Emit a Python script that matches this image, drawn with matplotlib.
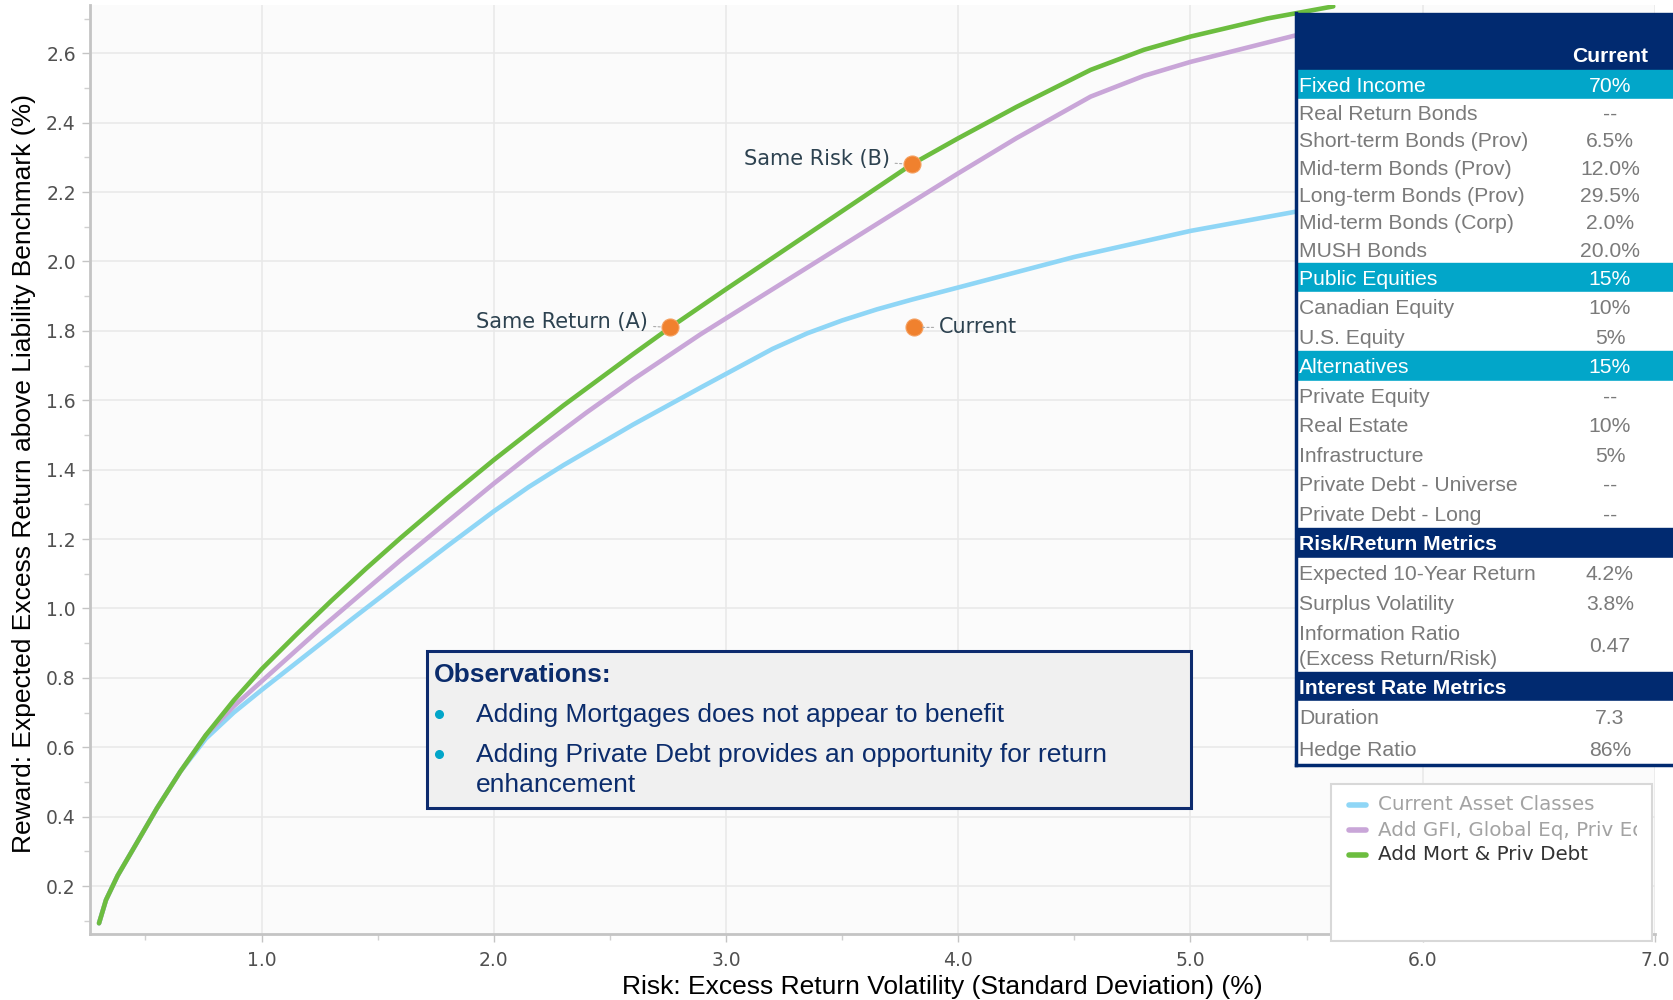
import matplotlib
matplotlib.use("Agg")
import matplotlib.pyplot as plt
from matplotlib.patches import Rectangle
from matplotlib.transforms import Bbox, TransformedBbox
from matplotlib.ticker import MultipleLocator, FormatStrFormatter

# --- frontier data: risk (%) x expected excess return (%) ---
risk_current_classes = [0.30, 0.33, 0.38, 0.45, 0.55, 0.65, 0.76, 0.88, 1.00, 1.20, 1.40, 1.60, 1.80,
                        2.00, 2.15, 2.30, 2.60, 2.90, 3.20, 3.35, 3.50, 3.65, 3.80, 4.00, 4.50, 5.00, 5.45]
ret_current_classes = [0.093, 0.16, 0.23, 0.31, 0.425, 0.53, 0.625, 0.70, 0.765, 0.87, 0.975, 1.078, 1.18,
                       1.28, 1.35, 1.413, 1.53, 1.64, 1.748, 1.793, 1.83, 1.862, 1.89, 1.925, 2.013,
                       2.088, 2.143]

risk_add_gfi = [0.30, 0.33, 0.38, 0.45, 0.55, 0.65, 0.76, 0.88, 1.00, 1.25, 1.60, 2.00, 2.20, 2.40,
                2.60, 2.89, 3.10, 3.38, 3.75, 4.00, 4.25, 4.57, 4.80, 5.00, 5.45]
ret_add_gfi = [0.093, 0.16, 0.23, 0.31, 0.425, 0.53, 0.635, 0.718, 0.79, 0.94, 1.14, 1.36, 1.465, 1.565,
               1.66, 1.79, 1.878, 1.995, 2.15, 2.254, 2.355, 2.475, 2.535, 2.575, 2.651]

risk_add_mort = [0.30, 0.33, 0.38, 0.45, 0.55, 0.65, 0.76, 0.88, 1.00, 1.15, 1.30, 1.45, 1.60, 1.80,
                 2.00, 2.30, 2.60, 2.76, 3.00, 3.40, 3.80, 4.00, 4.25, 4.57, 4.80, 5.00, 5.33, 5.615]
ret_add_mort = [0.093, 0.16, 0.23, 0.31, 0.425, 0.53, 0.635, 0.735, 0.825, 0.925, 1.022, 1.115, 1.204, 1.318,
                1.428, 1.585, 1.733, 1.81, 1.92, 2.10, 2.28, 2.355, 2.445, 2.552, 2.61, 2.648, 2.70, 2.735]

# highlighted portfolios
point_names = ["Same Return (A)", "Same Risk (B)", "Current"]
point_risk = [2.76, 3.80, 3.81]
point_ret = [1.81, 2.28, 1.81]

series_names = ["Current Asset Classes", "Add GFI, Global Eq, Priv Eq", "Add Mort & Priv Debt"]
series_colors = ["#8fd6f6", "#c9a6d8", "#6cbd3f"]

# allocation table
table_labels = ["Fixed Income", "Real Return Bonds", "Short-term Bonds (Prov)", "Mid-term Bonds (Prov)",
                "Long-term Bonds (Prov)", "Mid-term Bonds (Corp)", "MUSH Bonds",
                "Public Equities", "Canadian Equity", "U.S. Equity",
                "Alternatives", "Private Equity", "Real Estate", "Infrastructure",
                "Private Debt - Universe", "Private Debt - Long",
                "Risk/Return Metrics", "Expected 10-Year Return", "Surplus Volatility",
                "Information Ratio\n(Excess Return/Risk)",
                "Interest Rate Metrics", "Duration", "Hedge Ratio"]
table_values = ["70%", "--", "6.5%", "12.0%", "29.5%", "2.0%", "20.0%",
                "15%", "10%", "5%",
                "15%", "--", "10%", "5%", "--", "--",
                "", "4.2%", "3.8%", "0.47",
                "", "7.3", "86%"]
table_kinds = ["group", "row", "row", "row", "row", "row", "row",
               "group", "row", "row",
               "group", "row", "row", "row", "row", "row",
               "section", "row", "row", "row",
               "section", "row", "row"]
row_heights = [29, 27.3, 27.3, 27.3, 27.3, 27.3, 27.3,
               29, 29.5, 29.5,
               30, 29.4, 29.4, 29.4, 29.4, 29.4,
               30, 30, 30, 54,
               29, 32, 32]

observations = ["Adding Mortgages does not appear to benefit",
                "Adding Private Debt provides an opportunity for return\nenhancement"]

NAVY = "#012a70"
CYAN = "#02a6c9"
ORANGE = "#f0812e"

fig = plt.figure(figsize=(16.74, 10), dpi=100)
fig.patch.set_facecolor("white")

ax = fig.add_axes([0.0536, 0.066, 0.935, 0.929])
ax.set_facecolor("#fbfbfb")

for rx, ry, color, name in zip([risk_current_classes, risk_add_gfi, risk_add_mort],
                               [ret_current_classes, ret_add_gfi, ret_add_mort],
                               series_colors, series_names):
    ax.plot(rx, ry, color=color, lw=3.3, solid_capstyle="round", solid_joinstyle="round",
            label=name, zorder=3)

ax.scatter(point_risk, point_ret, s=150, color=ORANGE, edgecolor="#f5a060", lw=0.8, zorder=5)

# point labels with small dashed leaders
label_font = dict(family="DejaVu Sans", fontsize=15, color="#2d4250")
leader = dict(arrowstyle="-", ls=(0, (2, 2)), color="#aaaaaa", lw=0.8, shrinkA=2, shrinkB=6)
for name, px, py in zip(point_names, point_risk, point_ret):
    if name == "Current":
        ax.annotate(name, (px, py), xytext=(18, 0), textcoords="offset points",
                    ha="left", va="center", zorder=6, arrowprops=leader, **label_font)
    else:
        ax.annotate(name, (px, py), xytext=(-16, 4), textcoords="offset points",
                    ha="right", va="center", zorder=6, arrowprops=leader, **label_font)

ax.set_xlim(0.26, 7.0)
ax.set_ylim(0.062, 2.739)
ax.xaxis.set_major_locator(MultipleLocator(1.0))
ax.xaxis.set_minor_locator(MultipleLocator(0.5))
ax.yaxis.set_major_locator(MultipleLocator(0.2))
ax.yaxis.set_minor_locator(MultipleLocator(0.1))
ax.xaxis.set_major_formatter(FormatStrFormatter("%.1f"))
ax.yaxis.set_major_formatter(FormatStrFormatter("%.1f"))
ax.grid(True, which="major", color="#e9e9e9", lw=1.2, zorder=0)
ax.set_axisbelow(True)

for side in ["top", "right"]:
    ax.spines[side].set_visible(False)
for side in ["left", "bottom"]:
    ax.spines[side].set_color("#c4c4c4")
    ax.spines[side].set_linewidth(2)

ax.tick_params(which="major", direction="out", length=6, width=1, color="#c4c4c4",
               labelsize=13.5, labelcolor="#505050")
ax.tick_params(which="minor", direction="out", length=4, width=1, color="#d0d0d0")
ax.tick_params(axis="y", pad=4)
ax.tick_params(axis="x", pad=6)

ax.set_xlabel("Risk: Excess Return Volatility (Standard Deviation) (%)",
              family="Liberation Sans", fontsize=19, va="center")
ax.set_ylabel("Reward: Expected Excess Return above Liability Benchmark (%)",
              family="Liberation Sans", fontsize=19, va="center", ha="center")
ax.xaxis.set_label_coords(0.5446, -0.057)
ax.yaxis.set_label_coords(-0.0423, 0.496)

# overlay in pixel units for the table, legend and notes
ov = fig.add_axes([0, 0, 1, 1], zorder=10)
ov.set_xlim(0, 1674)
ov.set_ylim(1000, 0)
ov.axis("off")

tab_x0, tab_x1 = 1296, 1674
val_x = 1610
tfont = dict(family="Liberation Sans", fontsize=15.2)

# header
ov.add_patch(Rectangle((tab_x0, 13), tab_x1 - tab_x0, 57, color=NAVY, zorder=1))
ov.text(val_x, 57, "Current", ha="center", va="center", color="white", weight="bold", **tfont)

y = 70
for label, value, kind, h in zip(table_labels, table_values, table_kinds, row_heights):
    if kind == "group":
        bg, fg, wt = CYAN, "white", "normal"
    elif kind == "section":
        bg, fg, wt = NAVY, "white", "bold"
    else:
        bg, fg, wt = "white", "#7a7a7a", "normal"
    ov.add_patch(Rectangle((tab_x0, y), tab_x1 - tab_x0, h, color=bg, zorder=1))
    ov.text(tab_x0 + 3, y + h / 2 + 2, label, ha="left", va="center", color=fg, weight=wt,
            linespacing=1.4, zorder=2, **tfont)
    if value:
        ov.text(val_x, y + h / 2 + 2, value, ha="center", va="center", color=fg, zorder=2, **tfont)
    y += h

# table frame (left and bottom)
ov.plot([tab_x0, tab_x0], [13, y], color=NAVY, lw=2.5, zorder=3)
ov.plot([tab_x0, tab_x1], [y, y], color=NAVY, lw=2.5, zorder=3)

# legend box
ov.add_patch(Rectangle((1331, 784), 321, 157, facecolor="white", edgecolor="#d8d8d8", lw=1.5, zorder=1))
legend_clip = TransformedBbox(Bbox([[1331, 784], [1637, 941]]), ov.transData)
legend_text_colors = ["#a3a3a3", "#a3a3a3", "#333333"]
for i, (name, color, tc) in enumerate(zip(series_names, series_colors, legend_text_colors)):
    ly = 805 + 25 * i
    ov.plot([1349, 1366], [ly, ly], color=color, lw=4, solid_capstyle="round", zorder=2)
    t = ov.text(1378, ly, name, ha="left", va="center", color=tc, family="DejaVu Sans",
                fontsize=14.3, zorder=2)
    t.set_clip_box(legend_clip)
    t.set_clip_on(True)

# observations box
ov.add_patch(Rectangle((427, 651), 764, 157, facecolor="#f0f0f0", edgecolor="#0d2b6e", lw=2.2, zorder=1))
ofont = dict(family="Liberation Sans", fontsize=19, color="#0b2c6c")
ov.text(434, 675, "Observations:", ha="left", va="center", weight="bold", zorder=2, **ofont)
for i, line in enumerate(observations):
    oy = 714 + 40 * i
    ov.plot(439, oy, "o", ms=5.5, color=CYAN, zorder=2)
    ov.text(476, oy - 11, line, ha="left", va="top", zorder=2, linespacing=1.3, **ofont)

fig.savefig("out.png", dpi=100)
